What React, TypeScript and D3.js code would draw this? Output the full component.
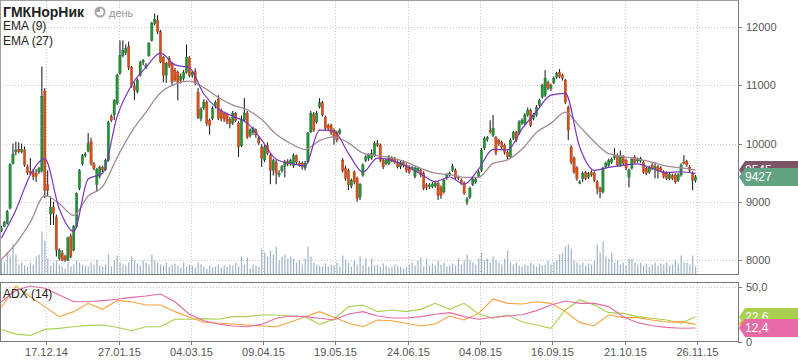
import * as d3 from "d3"

const W = 798
const H = 363

// daily candles, 17 bars before 17.12.14 through late Nov 2015
const opens = [
  8500, 8580, 8630, 8890, 9660, 9860, 9900, 9860, 9890, 9600,
  9520, 9500, 9490, 9510, 9540, 10900, 9290, 8790, 8910, 8740,
  8030, 8120, 8060, 8000, 8400, 8170, 8570, 9230, 9650, 9790,
  9870, 10030, 9650, 9300, 9440, 9590, 9550, 9710, 10460, 10490,
  10690, 11210, 11510, 11560, 11660, 11310, 10990, 10890, 11170, 11390,
  11310, 11510, 11770, 12060, 12110, 11920, 11480, 11170, 11460, 11380,
  11250, 11220, 11090, 11120, 11220, 11470, 11170, 11240, 10880, 10430,
  10610, 10710, 10400, 10430, 10640, 10760, 10570, 10520, 10500, 10410,
  10350, 10510, 10350, 9960, 10400, 10520, 10140, 10190, 10230, 10090,
  9940, 9720, 9970, 9800, 9540, 9680, 9460, 9540, 9610, 9690,
  9650, 9620, 9790, 9660, 9660, 9580, 9680, 10200, 10500, 10370,
  10630, 10700, 10450, 10310, 10310, 10230, 10190, 10180, 9710, 9580,
  9540, 9270, 9510, 9400, 9080, 9460, 9710, 9750, 9750, 9800,
  10000, 9970, 9710, 9660, 9660, 9750, 9740, 9680, 9600, 9680,
  9630, 9600, 9570, 9430, 9540, 9540, 9490, 9290, 9260, 9260,
  9270, 9320, 9250, 9170, 9410, 9460, 9540, 9540, 9420, 9370,
  9320, 9000, 9080, 9300, 9340, 9440, 9540, 9920, 10070, 10230,
  10140, 10100, 10050, 10020, 9970, 9850, 9770, 10090, 10190, 10180,
  10350, 10350, 10490, 10570, 10430, 10490, 10660, 10800, 10830, 11050,
  10950, 11050, 11140, 11220, 11170, 11090, 10620, 9940, 9750, 9580,
  9320, 9400, 9500, 9420, 9510, 9490, 9340, 9230, 9170, 9600,
  9630, 9680, 9750, 9800, 9630, 9770, 9710, 9420, 9580, 9760,
  9700, 9700, 9680, 9570, 9510, 9620, 9570, 9600, 9580, 9510,
  9490, 9400, 9450, 9460, 9370, 9460, 9680, 9690, 9590, 9490, 9360,
]

const highs = [
  8580, 8670, 8860, 9660, 10000, 10030, 10020, 10000, 9950, 9640,
  9750, 9560, 9560, 9600, 11320, 10950, 9540, 9090, 9000, 8780,
  8200, 8170, 8090, 8400, 8450, 8600, 9160, 9560, 9820, 9850,
  10180, 10100, 9680, 9580, 9620, 9620, 9740, 10390, 10500, 10760,
  11200, 11770, 11770, 11700, 11750, 11330, 11050, 11120, 11420, 11450,
  11380, 11740, 12090, 12230, 12200, 11950, 11500, 11400, 11500, 11400,
  11300, 11250, 11200, 11260, 11700, 11500, 11250, 11290, 10950, 10620,
  10760, 10740, 10430, 10640, 10740, 10830, 10600, 10550, 10530, 10450,
  10560, 10540, 10380, 10480, 10780, 10560, 10260, 10290, 10260, 10120,
  9990, 9970, 10020, 9830, 9740, 9720, 9540, 9630, 9720, 9730,
  9740, 9830, 9810, 9700, 9690, 9700, 10200, 10560, 10540, 10560,
  10780, 10730, 10480, 10340, 10340, 10260, 10220, 10260, 9750, 9620,
  9570, 9400, 9540, 9430, 9320, 9660, 9800, 9830, 9900, 10040,
  10060, 10000, 9740, 9740, 9800, 9780, 9770, 9710, 9710, 9710,
  9660, 9630, 9610, 9610, 9600, 9570, 9520, 9320, 9320, 9340,
  9360, 9350, 9280, 9400, 9490, 9520, 9650, 9570, 9450, 9400,
  9350, 9080, 9260, 9420, 9410, 9540, 9920, 10120, 10130, 10400,
  10490, 10130, 10080, 10050, 10000, 9880, 10090, 10220, 10220, 10400,
  10430, 10520, 10620, 10600, 10520, 10660, 10770, 11030, 11260, 11080,
  11030, 11150, 11230, 11280, 11200, 11110, 10650, 9970, 9780, 9610,
  9370, 9520, 9530, 9510, 9540, 9520, 9370, 9260, 9600, 9690,
  9740, 9760, 9920, 9830, 9880, 9800, 9740, 9570, 9760, 9800,
  9760, 9770, 9710, 9600, 9620, 9670, 9680, 9630, 9610, 9540,
  9520, 9500, 9480, 9490, 9490, 9660, 9800, 9720, 9630, 9520, 9460,
]

const lows = [
  8480, 8560, 8610, 8870, 9640, 9800, 9830, 9830, 9600, 9460,
  9450, 9370, 9340, 9480, 9500, 9060, 9090, 8600, 8600, 8060,
  7990, 7980, 7970, 7980, 8030, 8150, 8550, 9200, 9620, 9760,
  9850, 9620, 9540, 9170, 9400, 9510, 9530, 9690, 10370, 10400,
  10660, 11180, 11480, 11520, 11260, 10960, 10750, 10860, 11150, 11340,
  11280, 11490, 11750, 12030, 11880, 11380, 11050, 11040, 11300, 11000,
  11060, 10740, 11030, 11080, 11200, 11140, 11130, 11000, 10420, 10380,
  10580, 10300, 10150, 10400, 10600, 10400, 10380, 10370, 10330, 10260,
  10320, 10370, 9770, 9940, 10380, 10080, 10100, 10150, 10100, 9970,
  9600, 9680, 9800, 9300, 9450, 9300, 9420, 9500, 9420, 9610,
  9620, 9580, 9640, 9600, 9550, 9540, 9660, 10180, 10200, 10340,
  10600, 10460, 10230, 10230, 10150, 9980, 10020, 10150, 9500, 9360,
  9200, 9230, 9300, 9000, 9030, 9430, 9680, 9700, 9720, 9770,
  9940, 9680, 9560, 9630, 9630, 9680, 9650, 9570, 9560, 9590,
  9500, 9480, 9540, 9400, 9510, 9420, 9200, 9200, 9220, 9230,
  9240, 9030, 9050, 9140, 9380, 9440, 9510, 9380, 9370, 9290,
  9120, 8940, 9050, 9270, 9310, 9410, 9510, 9890, 10030, 10170,
  10110, 9800, 9960, 9900, 9810, 9730, 9740, 10060, 10020, 10150,
  10320, 10320, 10460, 10280, 10400, 10460, 10630, 10770, 10800, 10920,
  10900, 11020, 11110, 11120, 11080, 10680, 10060, 9640, 9480, 9360,
  9300, 9340, 9370, 9390, 9430, 9340, 9130, 9060, 9140, 9570,
  9600, 9650, 9720, 9600, 9600, 9630, 9540, 9250, 9550, 9650,
  9670, 9670, 9480, 9460, 9480, 9540, 9400, 9400, 9510, 9400,
  9370, 9370, 9370, 9310, 9340, 9430, 9640, 9600, 9510, 9200, 9330,
]

const closes = [
  8550, 8640, 8830, 9640, 9820, 9880, 9860, 9900, 9630, 9500,
  9490, 9430, 9430, 9570, 10810, 9200, 9200, 8910, 8800, 8170,
  8170, 8000, 8000, 8380, 8060, 8570, 9140, 9540, 9790, 9820,
  10000, 9660, 9570, 9550, 9590, 9550, 9710, 10370, 10400, 10740,
  11170, 11510, 11600, 11630, 11310, 11000, 10910, 11090, 11390, 11420,
  11340, 11720, 12060, 12130, 11920, 11400, 11170, 11380, 11340, 11050,
  11090, 11050, 11150, 11220, 11480, 11170, 11220, 11050, 10450, 10590,
  10710, 10350, 10310, 10600, 10710, 10430, 10430, 10420, 10380, 10340,
  10520, 10400, 9940, 10420, 10520, 10110, 10230, 10260, 10150, 10010,
  9750, 9940, 9830, 9540, 9710, 9490, 9490, 9600, 9680, 9650,
  9710, 9790, 9680, 9640, 9600, 9660, 10180, 10520, 10230, 10520,
  10700, 10490, 10260, 10260, 10190, 10110, 10060, 10230, 9540, 9400,
  9290, 9370, 9340, 9060, 9300, 9630, 9770, 9800, 9830, 10000,
  9970, 9710, 9600, 9710, 9770, 9710, 9680, 9600, 9680, 9630,
  9540, 9510, 9590, 9580, 9570, 9460, 9230, 9250, 9290, 9300,
  9320, 9110, 9110, 9370, 9460, 9490, 9610, 9410, 9400, 9320,
  9150, 9040, 9230, 9390, 9380, 9510, 9890, 10090, 10100, 10200,
  10260, 9850, 10000, 9940, 9850, 9770, 10060, 10190, 10060, 10370,
  10400, 10490, 10570, 10310, 10490, 10620, 10740, 11000, 11120, 10950,
  11000, 11120, 11200, 11150, 11120, 10710, 10230, 9680, 9510, 9400,
  9340, 9490, 9400, 9480, 9460, 9370, 9230, 9170, 9580, 9660,
  9710, 9730, 9800, 9630, 9770, 9660, 9580, 9540, 9730, 9680,
  9720, 9740, 9510, 9490, 9590, 9570, 9600, 9540, 9540, 9430,
  9400, 9470, 9400, 9340, 9460, 9630, 9660, 9640, 9540, 9370, 9427,
]

const volumes = [
  15, 12, 22, 18, 30, 20, 10, 12, 9, 8,
  12, 10, 18, 20, 43, 34, 16, 9, 12, 14,
  10, 8, 6, 12, 8, 10, 14, 12, 10, 9,
  8, 12, 10, 15, 9, 8, 10, 20, 8, 14,
  19, 12, 10, 9, 12, 18, 14, 11, 9, 14,
  12, 10, 20, 14, 12, 10, 9, 12, 8, 10,
  11, 9, 7, 12, 8, 10, 9, 7, 12, 10,
  8, 6, 9, 7, 8, 10, 7, 9, 8, 10,
  9, 12, 8, 18, 10, 17, 6, 10, 9, 8,
  26, 22, 18, 24, 20, 28, 14, 18, 20, 16,
  18, 16, 12, 14, 10, 16, 28, 18, 12, 10,
  9, 8, 11, 8, 10, 9, 12, 8, 19, 15,
  12, 8, 14, 10, 18, 9, 16, 8, 16, 9,
  10, 8, 11, 9, 7, 8, 10, 9, 8, 6,
  8, 10, 12, 9, 14, 17, 8, 16, 9, 11,
  9, 14, 10, 12, 8, 9, 11, 9, 16, 10,
  14, 20, 14, 12, 10, 16, 22, 14, 16, 12,
  18, 14, 12, 10, 16, 24, 12, 10, 12, 9,
  8, 10, 9, 12, 10, 8, 11, 9, 10, 14,
  10, 12, 14, 20, 22, 28, 30, 26, 14, 12,
  10, 12, 9, 11, 10, 14, 30, 22, 33, 18,
  16, 22, 12, 14, 10, 12, 9, 16, 16, 12,
  10, 12, 9, 11, 8, 10, 12, 9, 11, 10,
  12, 9, 10, 14, 11, 19, 12, 12, 10, 19, 8,
]

// indicator values read every 5th bar
const sampleStep = 5
const ema9 = [
  8380, 8860, 9460, 9740, 8880, 8490, 9390, 9490, 10460, 11000,
  11310, 11550, 11350, 11300, 10850, 10590, 10470, 10350, 10060, 9730,
  9657, 9615, 10230, 10210, 9830, 9510, 9750, 9710, 9610, 9480,
  9345, 9425, 9300, 9560, 9900, 9890, 10250, 10550, 10830, 10860,
  9930, 9540, 9590, 9625, 9650, 9570, 9500, 9515, 9486,
]
const ema27 = [
  8010, 8280, 8650, 9105, 8970, 8765, 9100, 9260, 9760, 10200,
  10540, 10870, 11020, 11070, 10960, 10790, 10660, 10580, 10410, 10160,
  10000, 9900, 10050, 10115, 10010, 9835, 9790, 9755, 9680, 9575,
  9490, 9465, 9420, 9420, 9660, 9720, 9900, 10190, 10345, 10540,
  10290, 10030, 9825, 9775, 9737, 9680, 9610, 9580, 9545,
]
const adxLine = [
  36.5, 47, 50.9, 48.8, 42.6, 36.5, 36.5, 37.5, 38.7, 40.5,
  41.7, 43.6, 36.5, 25, 19.1, 16, 14.2, 13.6, 15.7, 21.3,
  23.4, 22.8, 21.3, 19.7, 25.2, 27.4, 23.4, 21.6, 21.6, 22.8,
  25, 26.5, 22.8, 20.4, 22.2, 23.4, 24.6, 28.3, 33.5, 37.2,
  35, 35, 32, 22.8, 17.3, 14.5, 13, 12.1, 12.4,
]
const diPlus = [
  31.4, 50.9, 41, 32, 22.8, 27.4, 35, 29.5, 37.5, 36.5,
  33.5, 33.5, 27.4, 22.2, 17.6, 16.7, 16, 15.1, 14.2, 13.6,
  17.9, 22.8, 27.4, 22.2, 16.7, 13.6, 19.7, 19.1, 16.7, 14.2,
  16, 23.4, 19.7, 25.8, 39, 35, 34.4, 36.5, 35, 27.4,
  17.3, 14.5, 24.3, 21.9, 21.9, 19.7, 17.9, 18.2, 15.7,
]
const diMinus = [
  11.1, 6.8, 5.6, 11.1, 12, 13.6, 14.8, 15.1, 13, 9.9,
  13.6, 13.6, 20.4, 20.4, 21, 20.4, 22.8, 22.8, 24.3, 24.3,
  23.4, 22.8, 15.7, 20.4, 32, 33.5, 27.4, 28.9, 27.4, 29.5,
  35, 29.5, 35, 25.2, 21.3, 24.3, 18.2, 15.1, 12.1, 28.9,
  38.1, 33.5, 26.5, 25.8, 22.8, 21.3, 19.7, 16.7, 22.6,
]

const dateLabels = ["17.12.14", "27.01.15", "04.03.15", "09.04.15", "19.05.15", "24.06.15", "04.08.15", "16.09.15", "21.10.15", "26.11.15"]
const dateBars = [16, 41, 66, 91, 116, 141, 166, 191, 216, 241]
const priceTicks = [8000, 9000, 10000, 11000, 12000]
const adxTicks = [0, 50]

const font = "'Liberation Sans', Arial, sans-serif"
const upColor = "#26923a"
const downColor = "#d4521d"
const gridColor = "#c8c8c8"
const frameColor = "#7a7a7a"

// price tag with a pointed left edge; the text may be clipped where a later tag covers it
function tag(cy: number, fill: string, text: string | null, clipBelow?: number) {
  const path = `M739,${cy} L745,${cy - 9} L798,${cy - 9} L798,${cy + 9} L745,${cy + 9} Z`
  const id = "clip" + fill.slice(1)
  return (
    <g key={fill}>
      <path d={path} fill={fill} />
      {clipBelow !== undefined && (
        <clipPath id={id}>
          <rect x={739} y={cy - 9} width={60} height={Math.max(0, clipBelow - (cy - 9))} />
        </clipPath>
      )}
      {text && (
        <text x={745} y={cy + 4} fill="#fff" fontSize={12} fontFamily={font}
          clipPath={clipBelow !== undefined ? `url(#${id})` : undefined}>{text}</text>
      )}
    </g>
  )
}

export default function App() {
  const last = closes.length - 1
  const x = d3.scaleLinear().domain([0, last]).range([1.4, 695.5])
  const y = d3.scaleLinear().domain([8000, 12000]).range([260, 27])
  const yVol = d3.scaleLinear().domain([0, 45]).range([274.5, 229.5])
  const yAdx = d3.scaleLinear().domain([0, 50]).range([341.5, 287])

  const priceLine = d3
    .line<number>()
    .x((_, i) => x(i * sampleStep))
    .y((d) => y(d))
    .curve(d3.curveMonotoneX)
  const adxPath = d3
    .line<number>()
    .x((_, i) => x(i * sampleStep))
    .y((d) => yAdx(d))

  const bodyW = 2.3
  const fmtAdx = (v: number) => v.toFixed(1).replace(".", ",")

  const closeY = Math.round(y(closes[last]))
  const emaY = Math.round(y(ema27[ema27.length - 1]))
  const pinkY = Math.round(yAdx(adxLine[adxLine.length - 1]))
  const greenY = Math.round(yAdx(diMinus[diMinus.length - 1]))
  const orangeY = Math.round(yAdx(diPlus[diPlus.length - 1]))

  return (
    <svg
      width={W}
      height={H}
      style={{ position: "absolute", left: 0, top: 0, background: "#fff" }}
    >
      {/* grid */}
      {priceTicks.map((t) => (
        <line key={"hg" + t} x1={0} x2={738} y1={Math.round(y(t)) + 0.5} y2={Math.round(y(t)) + 0.5}
          stroke={gridColor} strokeDasharray="1,2" />
      ))}
      <line x1={0} x2={738} y1={Math.round(yAdx(50)) + 0.5} y2={Math.round(yAdx(50)) + 0.5}
        stroke={gridColor} strokeDasharray="1,2" />
      {dateBars.map((b) => {
        const gx = Math.round(x(b - 0.5)) + 0.5
        return (
          <g key={"vg" + b}>
            <line x1={gx} x2={gx} y1={1} y2={274} stroke={gridColor} strokeDasharray="1,2" />
            <line x1={gx} x2={gx} y1={283} y2={341} stroke={gridColor} strokeDasharray="1,2" />
          </g>
        )
      })}

      {/* volume */}
      {volumes.map((v, i) => (
        <rect key={"v" + i} x={x(i) - 0.5} y={yVol(v)} width={1.2} height={yVol(0) - yVol(v)} fill="#9fb2c6" />
      ))}

      {/* candles */}
      {closes.map((c, i) => {
        const o = opens[i]
        const up = c >= o
        const top = y(Math.max(o, c))
        const h = Math.max(1, Math.abs(y(o) - y(c)))
        return (
          <g key={"c" + i}>
            <line x1={x(i)} x2={x(i)} y1={y(highs[i])} y2={y(lows[i])} stroke="#111" strokeWidth={1} />
            <rect x={x(i) - bodyW / 2} y={top} width={bodyW} height={h}
              fill={up ? upColor : downColor} stroke={up ? "#1b6e2a" : "#a63c12"} strokeWidth={0.4} />
          </g>
        )
      })}

      {/* moving averages */}
      <path d={priceLine(ema27) ?? ""} fill="none" stroke="#a48a95" strokeWidth={1.3} />
      <path d={priceLine(ema9) ?? ""} fill="none" stroke="#7a35bd" strokeWidth={1.2} />

      {/* ADX panel lines */}
      <path d={adxPath(diMinus) ?? ""} fill="none" stroke="#a9d04f" strokeWidth={1.1} />
      <path d={adxPath(diPlus) ?? ""} fill="none" stroke="#f7a23c" strokeWidth={1.1} />
      <path d={adxPath(adxLine) ?? ""} fill="none" stroke="#e66aa5" strokeWidth={1.1} />

      {/* frames */}
      <rect x={0.5} y={0.5} width={738} height={274} fill="none" stroke="#a0a0a0" />
      <line x1={0} x2={739} y1={274.5} y2={274.5} stroke={frameColor} />
      <line x1={738.5} x2={738.5} y1={0} y2={275} stroke={frameColor} />
      <rect x={0.5} y={282.5} width={738} height={59} fill="none" stroke={frameColor} />

      {/* right axes */}
      {priceTicks.map((t) => (
        <g key={"pt" + t}>
          <line x1={738} x2={742} y1={Math.round(y(t)) + 0.5} y2={Math.round(y(t)) + 0.5} stroke={frameColor} />
          <text x={746} y={y(t) + 4} fontSize={11} fill="#555" fontFamily={font}>{t}</text>
        </g>
      ))}
      {adxTicks.map((t) => (
        <g key={"at" + t}>
          <line x1={738} x2={742} y1={Math.round(yAdx(t)) + 0.5} y2={Math.round(yAdx(t)) + 0.5} stroke={frameColor} />
          <text x={746} y={yAdx(t) + 4} fontSize={11} fill="#555" fontFamily={font}>
            {t === 0 ? "0" : fmtAdx(t)}
          </text>
        </g>
      ))}

      {/* bottom date axis */}
      {dateBars.map((b, k) => {
        const gx = Math.round(x(b - 0.5)) + 0.5
        return (
          <g key={"dt" + b}>
            <line x1={gx} x2={gx} y1={342} y2={345} stroke={frameColor} />
            <text x={gx} y={356} textAnchor="middle" fontSize={11} fill="#555" fontFamily={font}>
              {dateLabels[k]}
            </text>
          </g>
        )
      })}

      {/* last value tags */}
      {tag(emaY, "#7c5367", String(ema27[ema27.length - 1]), closeY - 9)}
      {tag(closeY, "#62a383", String(closes[last]))}
      {tag(orangeY, "#f7a23c", null)}
      {tag(greenY, "#a9d04f", fmtAdx(diMinus[diMinus.length - 1]), pinkY - 9)}
      {tag(pinkY, "#e66aa5", fmtAdx(adxLine[adxLine.length - 1]))}

      {/* legends */}
      <text x={3} y={17} fontSize={14} fontWeight="bold" fill="#222" fontFamily={font}>ГМКНорНик</text>
      <circle cx={100} cy={12} r={5.5} fill="#a5a5a5" />
      <path d={d3.arc()({ innerRadius: 0, outerRadius: 3.6, startAngle: 0, endAngle: Math.PI * 1.5 }) ?? ""}
        transform="translate(100,12)" fill="#fff" />
      <text x={109} y={17} fontSize={11} fill="#999" fontFamily={font}>день</text>
      <text x={3} y={30} fontSize={12} fill="#222" fontFamily={font}>EMA (9)</text>
      <text x={3} y={45} fontSize={12} fill="#222" fontFamily={font}>EMA (27)</text>
      <text x={3} y={298} fontSize={12} fill="#222" fontFamily={font}>ADX (14)</text>
    </svg>
  )
}
